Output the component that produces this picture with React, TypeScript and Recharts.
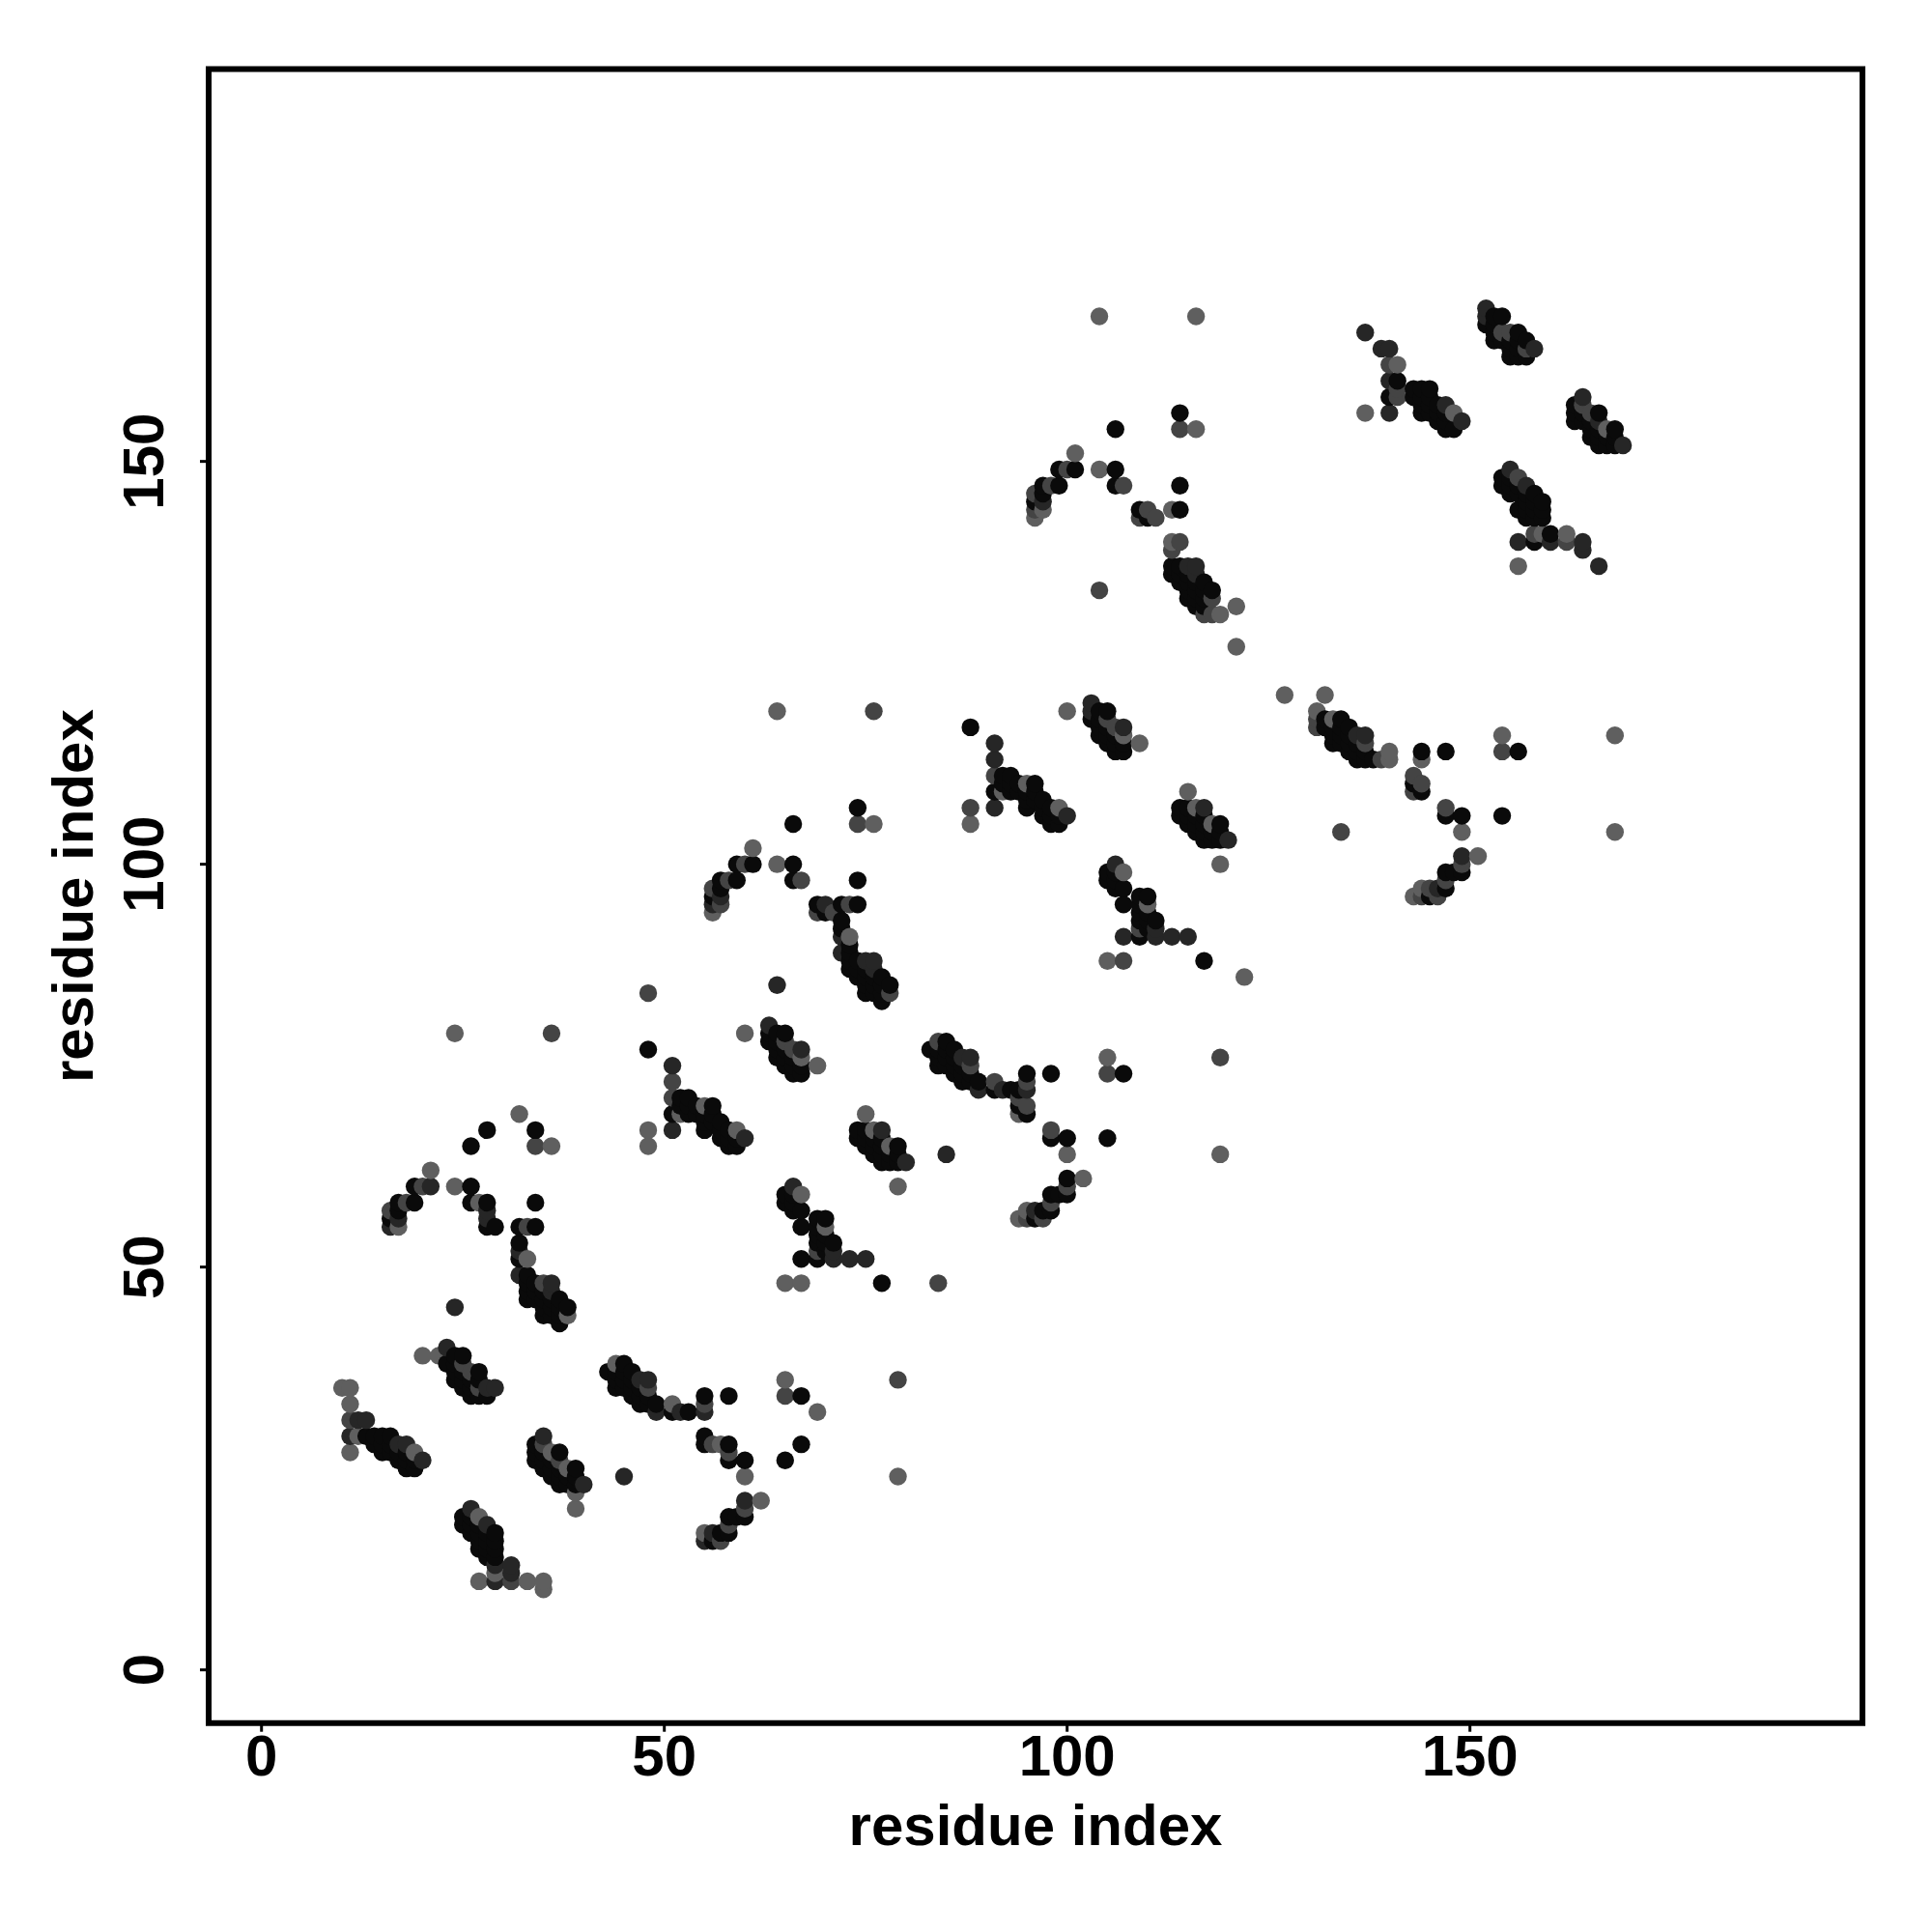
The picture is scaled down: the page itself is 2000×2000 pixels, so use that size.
import { ScatterChart, Scatter, XAxis, YAxis, ReferenceArea } from 'recharts'

type Contact = [number, number, number]

// [residue i, residue j, contact strength 1 (weak) .. 4 (strong)]
const helixA: Contact[] = [
  [10, 35, 1], [11, 35, 1], [11, 33, 1], [11, 31, 2], [12, 31, 3], [13, 31, 3], [11, 29, 3], [12, 29, 1], [13, 29, 4],
  [14, 29, 4], [15, 29, 4], [16, 29, 4], [16, 28, 4], [11, 27, 1], [15, 27, 4], [17, 27, 4], [17, 28, 3], [18, 28, 3],
  [19, 27, 1], [20, 26, 3], [18, 25, 4], [19, 25, 4],
]
const helixB: Contact[] = [
  [20, 39, 1], [22, 39, 1], [23, 40, 3], [23, 38, 4], [24, 39, 4], [25, 39, 4], [24, 36, 4], [25, 38, 2], [26, 37, 2],
  [27, 37, 4], [26, 34, 4], [27, 34, 4], [28, 34, 4], [27, 35, 2], [28, 35, 3], [29, 35, 3], [25, 36, 4],
]
const helixC: Contact[] = [
  [26, 20, 3], [25, 19, 4], [25, 18, 4], [27, 19, 1], [28, 18, 3], [26, 17, 4], [29, 16, 4], [28, 16, 4], [27, 15, 4],
  [29, 15, 4], [28, 15, 4], [29, 14, 4], [29, 13, 3], [31, 13, 3], [29, 12, 1], [31, 12, 3], [29, 11, 3], [27, 11, 1],
  [31, 11, 2], [33, 11, 1], [35, 11, 1], [35, 10, 1],
]
const helixD: Contact[] = [
  [35, 29, 3], [34, 28, 4], [34, 27, 4], [34, 26, 4], [35, 28, 2], [36, 27, 1], [37, 27, 4], [35, 27, 4], [36, 24, 4],
  [37, 26, 2], [37, 23, 4], [38, 25, 1], [39, 25, 4], [38, 23, 4], [39, 23, 4], [40, 23, 3], [39, 22, 1], [39, 20, 1],
  [45, 24, 3],
]
const helixE: Contact[] = [
  [44, 38, 1], [43, 37, 4], [45, 38, 4], [45, 37, 4], [45, 36, 4], [44, 35, 4], [46, 35, 4], [47, 36, 3], [48, 36, 3],
  [48, 35, 2], [47, 33, 4], [48, 34, 4], [49, 33, 4], [49, 32, 3], [47, 34, 4], [51, 33, 1], [51, 32, 4], [52, 32, 3],
  [53, 32, 4], [55, 34, 4], [55, 33, 2], [55, 32, 3], [58, 34, 4],
]
const helixF: Contact[] = [
  [55, 29, 4], [55, 28, 4], [56, 28, 2], [57, 28, 1], [58, 28, 4], [58, 27, 2], [58, 26, 4], [60, 26, 4], [60, 24, 1],
  [65, 36, 1], [65, 34, 2], [67, 34, 4], [69, 32, 1], [67, 28, 4], [65, 26, 4], [79, 36, 2], [79, 24, 1],
]
const helixG: Contact[] = [
  [60, 21, 3], [62, 21, 1], [60, 20, 2], [60, 19, 4], [58, 19, 4], [59, 19, 4], [58, 18, 2], [58, 17, 4], [57, 17, 4],
  [56, 17, 3], [55, 17, 1], [55, 16, 3], [56, 16, 4], [57, 16, 2],
]
const loopEarly: Contact[] = [
  [24, 79, 1], [36, 79, 2], [32, 69, 1], [28, 67, 4], [26, 65, 4], [34, 67, 4], [34, 65, 2], [36, 65, 1], [21, 62, 1],
  [21, 60, 3], [20, 60, 2], [19, 60, 4], [24, 60, 1], [26, 60, 4], [19, 58, 4], [18, 58, 2], [17, 58, 4], [16, 57, 2],
  [17, 57, 4], [16, 56, 4], [17, 56, 3], [16, 55, 3], [17, 55, 1], [26, 58, 4], [27, 58, 1], [28, 58, 4], [28, 57, 3],
  [28, 56, 3], [28, 55, 4], [29, 55, 4], [34, 58, 4], [32, 55, 4], [33, 55, 2], [34, 55, 4],
]
const helixH: Contact[] = [
  [32, 53, 4], [32, 52, 3], [32, 51, 4], [33, 51, 1], [32, 49, 3], [33, 49, 4], [33, 48, 4], [33, 47, 4], [35, 48, 2],
  [36, 48, 3], [36, 47, 3], [34, 47, 4], [35, 46, 4], [36, 45, 4], [38, 45, 4], [35, 44, 4], [37, 44, 4], [38, 44, 1],
  [37, 45, 4], [37, 43, 4], [24, 45, 3],
]
const helixI: Contact[] = [
  [48, 84, 2], [48, 77, 4], [51, 75, 3], [51, 73, 2], [51, 71, 2], [52, 71, 4], [53, 71, 4], [51, 69, 4], [52, 69, 1],
  [53, 69, 4], [55, 70, 1], [56, 70, 4], [56, 69, 4], [55, 67, 4], [57, 67, 4], [58, 67, 4], [59, 67, 1], [60, 66, 3],
  [58, 65, 4], [59, 65, 4], [51, 67, 3], [48, 67, 1], [48, 65, 1],
]
const helixJ: Contact[] = [
  [60, 79, 1], [63, 80, 3], [63, 79, 4], [63, 78, 4], [64, 79, 4], [65, 79, 4], [65, 78, 2], [64, 76, 4], [66, 77, 2],
  [67, 77, 3], [67, 76, 1], [66, 74, 4], [67, 74, 4], [69, 75, 1], [65, 75, 4], [64, 85, 3],
]
const helixK: Contact[] = [
  [75, 69, 1], [74, 67, 4], [74, 66, 4], [76, 67, 1], [77, 67, 3], [75, 66, 4], [76, 64, 4], [78, 65, 1], [79, 65, 4],
  [77, 63, 4], [78, 63, 4], [80, 63, 3], [79, 63, 4], [79, 60, 1], [77, 65, 4],
]
const helixL: Contact[] = [
  [66, 60, 3], [65, 59, 4], [67, 59, 1], [65, 58, 4], [66, 58, 4], [67, 57, 4], [67, 55, 4], [69, 56, 4], [70, 56, 4],
  [70, 55, 1], [69, 55, 4], [69, 53, 4], [70, 53, 4], [71, 53, 4], [69, 52, 2], [71, 52, 3], [67, 51, 4], [69, 51, 4],
  [71, 51, 3], [73, 51, 3], [75, 51, 3], [65, 48, 1], [67, 48, 1], [77, 48, 4], [84, 48, 2],
]
const loopMiddle: Contact[] = [
  [64, 119, 1], [76, 119, 2], [66, 105, 4], [74, 107, 4], [74, 105, 2], [76, 105, 1], [61, 102, 1], [61, 100, 4],
  [60, 100, 2], [59, 100, 4], [64, 100, 1], [66, 100, 4], [66, 98, 4], [67, 98, 2], [59, 98, 4], [58, 98, 2], [57, 98, 4],
  [56, 97, 2], [57, 97, 4], [56, 96, 4], [57, 96, 3], [56, 95, 3], [57, 95, 2], [56, 94, 1], [74, 98, 4],
]
const helixM: Contact[] = [
  [69, 95, 4], [70, 95, 3], [69, 94, 2], [70, 94, 4], [71, 94, 2], [72, 95, 4], [73, 95, 2], [74, 95, 4], [72, 93, 4],
  [72, 92, 4], [72, 91, 3], [73, 91, 1], [72, 89, 3], [73, 89, 4], [73, 88, 4], [73, 87, 4], [75, 88, 3], [76, 88, 3],
  [76, 87, 3], [74, 86, 4], [75, 86, 4], [75, 84, 4], [77, 85, 4], [78, 85, 4], [78, 84, 2], [77, 83, 4], [76, 85, 4],
  [77, 84, 4],
]
const helixN: Contact[] = [
  [84, 78, 2], [83, 77, 4], [85, 78, 4], [85, 77, 4], [84, 75, 4], [85, 76, 4], [86, 75, 4], [87, 76, 3], [88, 76, 3],
  [88, 75, 2], [87, 73, 4], [88, 74, 4], [89, 73, 4], [89, 72, 3], [91, 73, 2], [91, 72, 4], [92, 72, 3], [93, 72, 4],
  [95, 74, 4], [95, 73, 2], [95, 72, 3], [94, 72, 4], [98, 74, 4], [94, 71, 2], [95, 70, 2], [94, 70, 4], [94, 69, 1],
  [95, 69, 4],
]
const helixO: Contact[] = [
  [98, 67, 2], [98, 66, 4], [100, 66, 4], [100, 64, 1], [105, 76, 1], [105, 74, 2], [107, 74, 4], [105, 66, 4],
  [119, 76, 2], [119, 64, 1], [85, 64, 3], [100, 61, 4], [102, 61, 1], [100, 60, 2], [98, 59, 4], [99, 59, 4], [100, 59, 4],
  [98, 58, 2], [98, 57, 4], [97, 57, 4], [96, 57, 3], [95, 57, 1], [94, 56, 1], [95, 56, 2], [96, 56, 4], [97, 56, 2],
]
const helixP: Contact[] = [
  [88, 117, 4], [91, 115, 3], [91, 113, 3], [91, 111, 2], [92, 111, 4], [93, 111, 4], [91, 109, 4], [92, 109, 1],
  [93, 109, 4], [95, 110, 1], [96, 110, 4], [96, 109, 4], [95, 107, 4], [97, 107, 4], [98, 107, 4], [99, 107, 1],
  [100, 106, 3], [98, 105, 4], [99, 105, 4], [91, 107, 3], [88, 107, 2], [88, 105, 1],
]
const helixQ: Contact[] = [
  [100, 119, 1], [103, 120, 3], [103, 119, 3], [103, 118, 4], [104, 118, 4], [104, 116, 4], [105, 119, 4], [105, 118, 2],
  [106, 117, 2], [107, 117, 3], [107, 116, 1], [106, 114, 4], [107, 114, 4], [109, 115, 1],
]
const helixR: Contact[] = [
  [115, 109, 1], [114, 107, 4], [114, 106, 4], [116, 107, 1], [117, 107, 3], [115, 106, 4], [116, 104, 4], [118, 105, 1],
  [119, 105, 4], [117, 103, 4], [118, 103, 4], [119, 103, 4], [120, 103, 3], [119, 100, 1],
]
const helixS: Contact[] = [
  [106, 100, 3], [105, 99, 4], [107, 99, 1], [105, 98, 4], [106, 98, 4], [107, 97, 4], [107, 95, 4], [109, 96, 4],
  [110, 96, 4], [110, 95, 1], [109, 95, 4], [109, 93, 4], [110, 93, 4], [111, 93, 4], [109, 92, 2], [111, 92, 3],
  [107, 91, 3], [109, 91, 4], [111, 91, 3], [113, 91, 3], [115, 91, 3], [105, 88, 1], [107, 88, 2], [117, 88, 4], [122, 86, 1],
]
const helixT: Contact[] = [
  [127, 121, 1], [132, 121, 1], [131, 119, 1], [131, 118, 2], [131, 117, 2], [132, 118, 4], [132, 117, 4], [133, 118, 1],
  [134, 118, 4], [134, 117, 4], [133, 115, 4], [134, 116, 4], [136, 116, 3], [137, 116, 3], [137, 115, 2], [136, 114, 4],
  [135, 115, 4], [136, 113, 4], [137, 113, 4], [138, 113, 4], [139, 113, 2], [140, 114, 1], [140, 113, 1],
]
const helixU: Contact[] = [
  [144, 114, 4], [144, 113, 1], [147, 114, 4], [154, 116, 1], [154, 114, 2], [156, 114, 4], [168, 116, 1], [134, 104, 2],
  [168, 104, 1], [143, 111, 2], [143, 110, 4], [143, 109, 2], [144, 110, 2], [144, 109, 4], [147, 107, 2], [147, 106, 4],
  [149, 106, 4], [149, 104, 1], [154, 106, 4],
]
const helixV: Contact[] = [
  [149, 101, 3], [151, 101, 1], [149, 100, 2], [147, 99, 4], [148, 99, 4], [149, 99, 4], [147, 98, 2], [147, 97, 4],
  [146, 97, 3], [145, 97, 2], [144, 97, 1], [143, 96, 1], [144, 96, 2], [145, 96, 4], [146, 96, 2],
]
const loopLate: Contact[] = [
  [104, 168, 1], [116, 168, 1], [114, 156, 4], [106, 154, 4], [114, 154, 2], [116, 154, 1], [101, 151, 1], [101, 149, 4],
  [100, 149, 2], [99, 149, 4], [104, 149, 1], [106, 149, 4], [106, 147, 4], [107, 147, 2], [99, 147, 4], [98, 147, 2],
  [97, 147, 4], [96, 146, 2], [97, 146, 4], [96, 145, 4], [97, 145, 3], [96, 144, 2], [97, 144, 1], [96, 143, 1],
  [114, 147, 4], [109, 144, 4], [110, 144, 2], [109, 143, 2], [110, 143, 4], [111, 143, 2], [113, 144, 1], [114, 144, 4],
]
const helixW: Contact[] = [
  [113, 140, 1], [114, 140, 2], [113, 139, 2], [113, 137, 4], [113, 136, 4], [115, 137, 3], [116, 137, 3], [116, 136, 3],
  [114, 136, 4], [115, 135, 4], [115, 133, 4], [117, 134, 4], [118, 134, 4], [118, 133, 2], [116, 134, 4], [116, 132, 4],
  [117, 132, 4], [117, 131, 2], [118, 131, 2], [119, 131, 1], [121, 132, 1], [121, 127, 1], [104, 134, 2],
]
const helixX: Contact[] = [
  [137, 166, 3], [139, 164, 3], [140, 164, 3], [140, 162, 2], [141, 162, 1], [140, 160, 3], [141, 160, 4], [141, 159, 2],
  [140, 158, 4], [141, 158, 2], [140, 156, 3], [137, 156, 1], [143, 159, 4], [145, 159, 4], [143, 158, 4], [144, 158, 4],
  [145, 158, 4], [144, 156, 4], [147, 157, 3], [148, 156, 1], [149, 155, 3], [147, 154, 4], [148, 154, 4], [146, 156, 4],
  [147, 155, 4],
]
const helixY: Contact[] = [
  [152, 169, 3], [152, 168, 3], [152, 167, 4], [153, 168, 4], [154, 168, 4], [153, 165, 4], [154, 166, 2], [155, 166, 2],
  [156, 166, 4], [156, 165, 4], [155, 163, 4], [156, 163, 4], [157, 164, 2], [158, 164, 3], [157, 163, 4],
]
const helixZ: Contact[] = [
  [164, 158, 3], [163, 157, 4], [163, 156, 4], [163, 155, 4], [164, 157, 2], [165, 156, 2], [166, 156, 4], [164, 155, 4],
  [166, 155, 3], [165, 153, 4], [167, 154, 1], [168, 154, 4], [166, 152, 4], [167, 152, 4], [168, 152, 4], [169, 152, 3],
]
const helixEnd: Contact[] = [
  [155, 149, 3], [154, 148, 4], [156, 148, 2], [154, 147, 4], [155, 147, 4], [157, 147, 3], [156, 146, 4], [156, 144, 4],
  [158, 145, 4], [159, 145, 4], [158, 143, 4], [159, 143, 4], [157, 144, 4], [158, 141, 2], [159, 141, 1], [160, 141, 4],
  [162, 141, 1], [156, 140, 3], [158, 140, 4], [160, 140, 3], [162, 140, 2], [164, 140, 3], [164, 139, 3], [156, 137, 1],
  [166, 137, 3],
]
// estimated: contacts hidden inside the solid diagonal bands
const bandInterior: Contact[] = [
  [14, 28, 4], [15, 28, 4], [16, 27, 4], [17, 26, 4], [18, 26, 4], [18, 27, 4], [19, 26, 4],
  [24, 38, 4], [24, 37, 4], [25, 37, 4], [26, 36, 4], [26, 35, 4], [27, 36, 4], [25, 35, 4],
  [26, 19, 4], [26, 18, 4], [27, 18, 4], [27, 17, 4], [27, 16, 4], [28, 17, 4], [29, 17, 4], [28, 14, 4],
  [35, 26, 4], [35, 25, 4], [36, 26, 4], [36, 25, 4], [37, 25, 4], [37, 24, 4], [38, 24, 4], [39, 24, 4],
  [44, 37, 4], [44, 36, 4], [45, 35, 4], [46, 36, 4], [46, 37, 4], [46, 34, 4], [47, 35, 4], [48, 33, 4],
  [34, 48, 4], [34, 46, 4], [35, 47, 4], [35, 45, 4], [36, 46, 4], [36, 44, 4], [37, 46, 4], [33, 46, 4],
  [52, 70, 4], [53, 70, 4], [54, 70, 4], [54, 69, 4], [55, 69, 4], [55, 68, 4], [56, 68, 4], [57, 68, 4], [57, 66, 4],
  [58, 66, 4], [59, 66, 4], [64, 78, 4], [64, 77, 4], [65, 77, 4], [65, 76, 4], [66, 76, 4], [66, 75, 4], [67, 75, 4],
  [75, 67, 4], [75, 65, 4], [76, 66, 4], [76, 65, 4], [77, 66, 4], [77, 64, 4], [78, 64, 4], [79, 64, 4],
  [66, 59, 4], [66, 57, 4], [69, 54, 4], [70, 54, 4], [70, 52, 4],
  [74, 88, 4], [74, 87, 4], [75, 87, 4], [75, 85, 4], [76, 86, 4], [77, 86, 4], [76, 84, 4], [73, 90, 4],
  [84, 77, 4], [84, 76, 4], [85, 75, 4], [86, 76, 4], [86, 77, 4], [86, 74, 4], [87, 75, 4], [88, 73, 4], [87, 74, 4],
  [92, 110, 4], [93, 110, 4], [94, 110, 4], [94, 109, 4], [95, 109, 4], [95, 108, 4], [96, 108, 4], [97, 108, 4],
  [97, 106, 4], [98, 106, 4], [99, 106, 4], [104, 119, 4], [104, 117, 4], [105, 117, 4], [105, 116, 4], [106, 116, 4],
  [106, 115, 4], [107, 115, 4], [105, 115, 4], [115, 107, 4], [115, 105, 4], [116, 106, 4], [116, 105, 4], [117, 106, 4],
  [117, 105, 4], [117, 104, 4], [118, 104, 4], [119, 104, 4], [106, 99, 4], [106, 97, 4], [109, 94, 4], [110, 94, 4],
  [110, 92, 4], [133, 117, 4], [133, 116, 4], [134, 115, 4], [135, 117, 4], [135, 116, 4], [136, 115, 4], [135, 114, 4],
  [137, 114, 4], [114, 137, 4], [115, 136, 4], [115, 134, 4], [116, 135, 4], [116, 133, 4], [117, 133, 4], [114, 135, 4],
  [117, 135, 4], [144, 159, 4], [144, 157, 4], [145, 157, 4], [146, 157, 4], [145, 156, 4], [146, 155, 4], [147, 156, 4],
  [153, 167, 4], [153, 166, 4], [154, 165, 4], [155, 165, 4], [155, 164, 4], [156, 164, 4], [157, 165, 4],
  [164, 156, 4], [165, 155, 4], [165, 154, 4], [166, 154, 4], [167, 153, 4], [166, 153, 4], [168, 153, 4],
  [155, 148, 4], [155, 146, 4], [156, 147, 4], [157, 146, 4], [157, 145, 4], [158, 146, 4], [158, 144, 4], [159, 144, 4],
  [157, 143, 4],
]

const xTicks = [0, 50, 100, 150]
const yTicks = [0, 50, 100, 150]
const shades = ['#000000', '#5f5f5f', '#444444', '#262626', '#0a0a0a']

// points later in x (then y) were plotted on top
const contacts = [
  helixA, helixB, helixC, helixD, helixE, helixF, helixG, loopEarly, helixH, helixI, helixJ, helixK, helixL,
  loopMiddle, helixM, helixN, helixO, helixP, helixQ, helixR, helixS, helixT, helixU, helixV, loopLate, helixW,
  helixX, helixY, helixZ, helixEnd, bandInterior,
]
  .flat()
  .sort((a, b) => a[0] - b[0] || a[1] - b[1])
  .map(([i, j, strength]) => ({ i, j, strength }))

const font = '"Liberation Sans", Arial, sans-serif'

function XTick({ x, payload }: any) {
  return (
    <text x={x} y={1817} textAnchor="middle" dominantBaseline="central" fontFamily={font} fontWeight="bold" fontSize={60} fill="#000">
      {payload.value}
    </text>
  )
}

function YTick({ y, payload }: any) {
  return (
    <text
      x={149}
      y={y}
      transform={`rotate(-90 149 ${y})`}
      textAnchor="middle"
      dominantBaseline="central"
      fontFamily={font}
      fontWeight="bold"
      fontSize={60}
      fill="#000"
    >
      {payload.value}
    </text>
  )
}

function Dot({ cx, cy, payload }: any) {
  return <circle cx={cx} cy={cy} r={9.2} fill={shades[payload.strength]} />
}

export default function App() {
  return (
    <div style={{ position: 'absolute', left: 0, top: 0, width: 2000, height: 2000, background: '#fff' }}>
      <ScatterChart width={2000} height={2000} margin={{ top: 71.5, right: 72, bottom: 0, left: 0 }}>
        <XAxis
          type="number"
          dataKey="i"
          domain={[-6.56, 198.72]}
          ticks={xTicks}
          height={216.3}
          axisLine={false}
          tickSize={9}
          tickLine={{ stroke: '#000', strokeWidth: 3 }}
          tick={<XTick />}
          label={{
            value: 'residue index',
            position: 'insideBottom',
            offset: 90,
            style: { fontFamily: font, fontWeight: 'bold', fontSize: 60, fill: '#000' },
          }}
        />
        <YAxis
          type="number"
          dataKey="j"
          domain={[-6.6, 198.7]}
          ticks={yTicks}
          width={216}
          axisLine={false}
          tickSize={9}
          tickLine={{ stroke: '#000', strokeWidth: 3 }}
          tick={<YTick />}
          label={{
            value: 'residue index',
            angle: -90,
            position: 'insideLeft',
            offset: 75,
            style: { fontFamily: font, fontWeight: 'bold', fontSize: 60, fill: '#000', textAnchor: 'middle' },
          }}
        />
        <ReferenceArea x1={-6.56} x2={198.72} y1={-6.6} y2={198.7} fill="none" stroke="#000" strokeWidth={6} />
        <Scatter data={contacts} isAnimationActive={false} shape={<Dot />} />
      </ScatterChart>
    </div>
  )
}
